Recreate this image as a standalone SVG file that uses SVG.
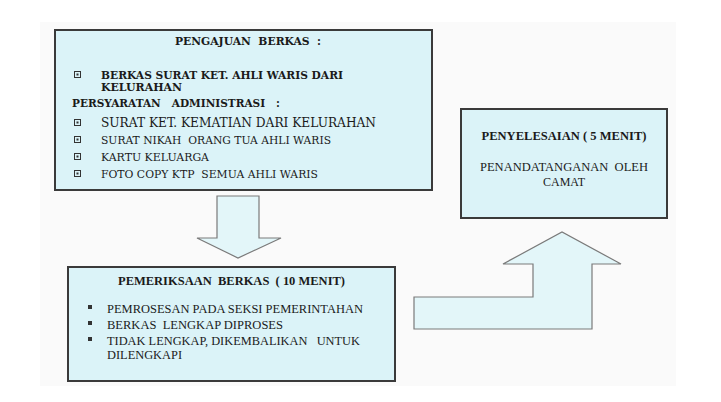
<svg xmlns="http://www.w3.org/2000/svg" width="721" height="402" viewBox="0 0 721 402">
<style>
.box{fill:#dbf3f8;stroke:#3a3a3a;stroke-width:2}
.arr{fill:#e3f6f9;stroke:#7a7a7a;stroke-width:1.2}
.bk{font-family:"DejaVu Serif","Liberation Serif",serif;fill:#1a1a1a;white-space:pre}
.tm{font-family:"Liberation Serif",serif;fill:#1a1a1a;white-space:pre}
.b{font-weight:bold}
.sq{fill:none;stroke:#333;stroke-width:1}
.dot{fill:#333}
</style>
<rect x="0" y="0" width="721" height="402" fill="#ffffff"/>
<rect x="40" y="22" width="636" height="364" fill="#fafafa"/>
<g id="connectors">
<path class="arr" d="M217,196 L259,196 L259,238 L281,238 L238,258 L197,238 L217,238 Z"/>
<path class="arr" d="M414,297 L533,297 L533,264 L503,264 L562,232 L621,264 L592,264 L592,329 L414,329 Z"/>
</g>
<g id="pengajuan">
<rect class="box" x="55" y="30" width="377" height="160"/>
<text class="bk b" x="175" y="45" font-size="11" textLength="146" lengthAdjust="spacingAndGlyphs">PENGAJUAN  BERKAS  :</text>
<rect class="sq" x="74.5" y="71.5" width="6" height="6"/><rect class="dot" x="76.5" y="73.5" width="2" height="2"/>
<text class="bk b" x="101" y="79" font-size="11" textLength="242" lengthAdjust="spacingAndGlyphs">BERKAS SURAT KET. AHLI WARIS DARI</text>
<text class="bk b" x="101" y="91" font-size="11" textLength="81" lengthAdjust="spacingAndGlyphs">KELURAHAN</text>
<text class="bk b" x="72" y="107" font-size="11" textLength="208" lengthAdjust="spacingAndGlyphs">PERSYARATAN   ADMINISTRASI   :</text>
<rect class="sq" x="74.5" y="119.5" width="6" height="6"/><rect class="dot" x="76.5" y="121.5" width="2" height="2"/>
<text class="bk" x="101" y="127" font-size="13.5" textLength="275" lengthAdjust="spacingAndGlyphs">SURAT KET. KEMATIAN DARI KELURAHAN</text>
<rect class="sq" x="74.5" y="136.5" width="6" height="6"/><rect class="dot" x="76.5" y="138.5" width="2" height="2"/>
<text class="bk" x="101" y="144" font-size="11" textLength="230" lengthAdjust="spacingAndGlyphs">SURAT NIKAH  ORANG TUA AHLI WARIS</text>
<rect class="sq" x="74.5" y="153.5" width="6" height="6"/><rect class="dot" x="76.5" y="155.5" width="2" height="2"/>
<text class="bk" x="101" y="161" font-size="11" textLength="108" lengthAdjust="spacingAndGlyphs">KARTU KELUARGA</text>
<rect class="sq" x="74.5" y="170.5" width="6" height="6"/><rect class="dot" x="76.5" y="172.5" width="2" height="2"/>
<text class="bk" x="101" y="178" font-size="11" textLength="217" lengthAdjust="spacingAndGlyphs">FOTO COPY KTP  SEMUA AHLI WARIS</text>
</g>
<g id="pemeriksaan">
<rect class="box" x="68" y="267" width="327" height="114"/>
<text class="tm b" x="118" y="285" font-size="12" textLength="227" lengthAdjust="spacingAndGlyphs">PEMERIKSAAN  BERKAS  ( 10 MENIT)</text>
<rect class="dot" x="88" y="305" width="4" height="4"/>
<text class="tm" x="107" y="313" font-size="12" textLength="256" lengthAdjust="spacingAndGlyphs">PEMROSESAN PADA SEKSI PEMERINTAHAN</text>
<rect class="dot" x="88" y="321" width="4" height="4"/>
<text class="tm" x="107" y="329" font-size="12" textLength="176" lengthAdjust="spacingAndGlyphs">BERKAS  LENGKAP DIPROSES</text>
<rect class="dot" x="88" y="337" width="4" height="4"/>
<text class="tm" x="107" y="345" font-size="12" textLength="253" lengthAdjust="spacingAndGlyphs">TIDAK LENGKAP, DIKEMBALIKAN   UNTUK</text>
<text class="tm" x="107" y="359" font-size="12" textLength="75" lengthAdjust="spacingAndGlyphs">DILENGKAPI</text>
</g>
<g id="penyelesaian">
<rect class="box" x="461" y="109" width="206" height="109"/>
<text class="tm b" x="564" y="140" font-size="12" text-anchor="middle" textLength="165" lengthAdjust="spacingAndGlyphs">PENYELESAIAN ( 5 MENIT)</text>
<text class="tm" x="564" y="171" font-size="12" text-anchor="middle" textLength="168" lengthAdjust="spacingAndGlyphs">PENANDATANGANAN  OLEH</text>
<text class="tm" x="564" y="186" font-size="12" text-anchor="middle">CAMAT</text>
</g>
</svg>
